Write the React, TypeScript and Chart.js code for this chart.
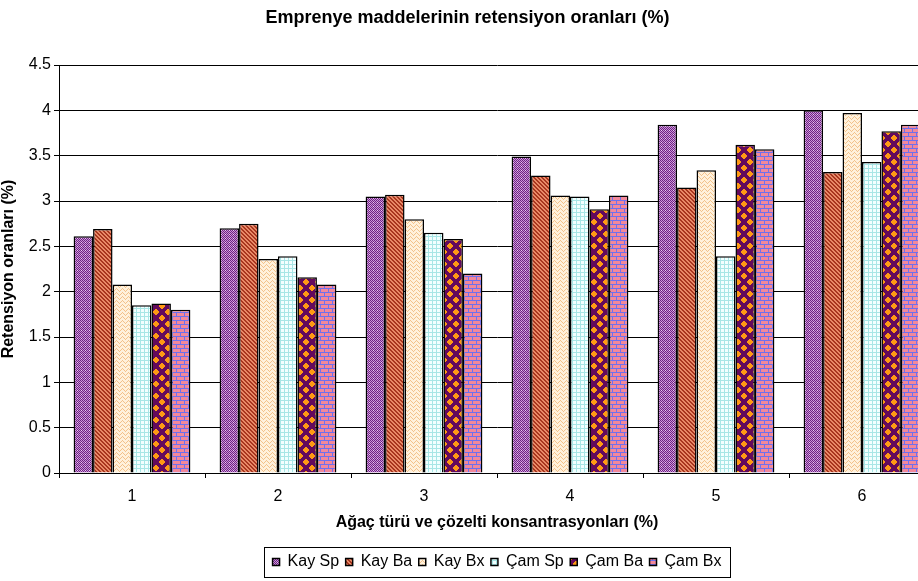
import { useEffect, useRef } from "react";
import { Chart, registerables } from "chart.js";

Chart.register(...registerables);

const categories = ["1", "2", "3", "4", "5", "6"];
const seriesNames = ["Kay Sp", "Kay Ba", "Kay Bx", "Çam Sp", "Çam Ba", "Çam Bx"];
const kaySp = [2.61, 2.7, 3.05, 3.49, 3.84, 4.0];
const kayBa = [2.69, 2.75, 3.07, 3.28, 3.15, 3.32];
const kayBx = [2.08, 2.36, 2.8, 3.06, 3.34, 3.97];
const camSp = [1.85, 2.39, 2.65, 3.05, 2.39, 3.43];
const camBa = [1.87, 2.16, 2.58, 2.91, 3.62, 3.77];
const camBx = [1.8, 2.08, 2.2, 3.06, 3.57, 3.84];
const yMin = 0;
const yMax = 4.5;
const yStep = 0.5;

const titleText = "Emprenye maddelerinin retensiyon oranları (%)";
const xTitle = "Ağaç türü ve çözelti konsantrasyonları (%)";
const yTitle = "Retensiyon oranları (%)";

const FONT = "'Liberation Sans', Arial, sans-serif";

function makeTile(w: number, h: number, fn: (x: number, y: number) => string): CanvasPattern {
  const c = document.createElement("canvas");
  c.width = w;
  c.height = h;
  const ctx = c.getContext("2d")!;
  for (let y = 0; y < h; y++) {
    for (let x = 0; x < w; x++) {
      ctx.fillStyle = fn(x, y);
      ctx.fillRect(x, y, 1, 1);
    }
  }
  return ctx.createPattern(c, "repeat")!;
}

function buildPatterns(): CanvasPattern[] {
  // Kay Sp: fine purple checker
  const p1 = makeTile(4, 4, (x, y) => {
    if (x === 1 && y === 2) return "#ecc6f2";
    return (x + y) % 2 === 0 ? "#6c2680" : "#cc90da";
  });
  // Kay Ba: diagonal stripes
  const p2 = makeTile(4, 4, (x, y) => ((((x - y) % 4) + 4) % 4 < 2 ? "#a8361f" : "#e98a68"));
  // Kay Bx: zigzag
  const zig = [2, 1, 0, 1, 2, 3];
  const p3 = makeTile(6, 4, (x, y) => (zig[x] === y ? "#f2c28c" : "#fff1dc"));
  // Çam Sp: light cyan grid
  const p4 = makeTile(4, 4, (x, y) => (x === 0 || y === 0 ? "#a8e6e6" : "#f2ffff"));
  // Çam Ba: orange diamonds on purple
  const T = 12;
  const centers = [
    [0, 0], [T, 0], [0, T], [T, T], [T / 2, T / 2],
  ];
  const p5 = makeTile(T, T, (x, y) => {
    let d = 99;
    for (const [cx, cy] of centers) d = Math.min(d, Math.abs(x + 0.5 - cx) + Math.abs(y + 0.5 - cy));
    return d <= 3.2 ? "#ff9a14" : "#640a5c";
  });
  // Çam Bx: bricks
  const p6 = makeTile(8, 8, (x, y) => {
    const blue = "#6e70ee";
    if (y === 0 || y === 4) return blue;
    if (y < 4 && x === 0) return blue;
    if (y > 4 && x === 4) return blue;
    return "#f2889a";
  });
  return [p1, p2, p3, p4, p5, p6];
}

const legendBorder = {
  id: "legendBorder",
  afterDraw(chart: any) {
    const lg = chart.legend;
    if (!lg || !lg.legendHitBoxes || !lg.legendHitBoxes.length) return;
    const hb = lg.legendHitBoxes;
    let l = Infinity, r = -Infinity, t = Infinity, b = -Infinity;
    for (const h of hb) {
      l = Math.min(l, h.left);
      r = Math.max(r, h.left + h.width);
      t = Math.min(t, h.top);
      b = Math.max(b, h.top + h.height);
    }
    const ctx = chart.ctx;
    ctx.save();
    ctx.strokeStyle = "#000";
    ctx.lineWidth = 1;
    const cy = (t + b) / 2;
    ctx.strokeRect(Math.round(l - 9) + 0.5, Math.round(cy - 15) + 0.5, Math.round(r - l + 17), 30);
    ctx.restore();
  },
};

export default function App() {
  const ref = useRef<HTMLCanvasElement>(null);

  useEffect(() => {
    if (!ref.current) return;
    Chart.defaults.font.family = FONT;
    const patterns = buildPatterns();
    const values = [kaySp, kayBa, kayBx, camSp, camBa, camBx];
    const chart = new Chart(ref.current, {
      type: "bar",
      data: {
        labels: categories,
        datasets: values.map((v, i) => ({
          label: seriesNames[i],
          data: v,
          backgroundColor: patterns[i] as any,
          borderColor: "#000",
          borderWidth: 1.5,
          categoryPercentage: 0.8,
          barPercentage: 1,
        })),
      },
      options: {
        responsive: false,
        animation: false,
        devicePixelRatio: 1,
        layout: { padding: { left: 0, right: 5, top: 0, bottom: 1 } },
        plugins: {
          title: {
            display: true,
            text: titleText,
            color: "#000",
            font: { family: FONT, size: 18, weight: "bold" },
            padding: { top: 7.2, bottom: 36.2 },
          },
          legend: {
            position: "bottom",
            fullSize: false,
            labels: {
              boxWidth: 7,
              boxHeight: 7,
              color: "#000",
              font: { family: FONT, size: 16 },
              padding: 6.5,
            },
          },
          tooltip: { enabled: false },
        },
        scales: {
          x: {
            grid: { offset: true, drawOnChartArea: false, drawTicks: true, tickLength: 5, color: "#000" },
            border: { color: "#000", width: 1 },
            ticks: { color: "#000", font: { family: FONT, size: 16 }, padding: 9.4 },
            title: {
              display: true,
              text: xTitle,
              color: "#000",
              font: { family: FONT, size: 16, weight: "bold" },
              padding: { top: 0, bottom: 14.9 },
            },
            afterFit: (s: any) => {
              s.height = 74.5;
            },
          },
          y: {
            min: yMin,
            max: yMax,
            ticks: {
              stepSize: yStep,
              color: "#000",
              font: { family: FONT, size: 16 },
              padding: 3,
              callback: (v: any) => String(Math.round(Number(v) * 10) / 10),
            },
            grid: { color: "#000", tickLength: 5 },
            border: { color: "#000", width: 1 },
            title: {
              display: true,
              text: yTitle,
              color: "#000",
              font: { family: FONT, size: 16, weight: "bold" },
              padding: { top: -1.5, bottom: 0 },
            },
            afterFit: (s: any) => {
              s.width = 59;
            },
          },
        },
      },
      plugins: [legendBorder],
    });
    return () => chart.destroy();
  }, []);

  return (
    <div style={{ position: "fixed", left: 0, top: 0, width: 918, height: 581, overflow: "hidden", background: "#fff" }}>
      <canvas ref={ref} width={940} height={581} style={{ width: 940, height: 581, display: "block" }} />
    </div>
  );
}
